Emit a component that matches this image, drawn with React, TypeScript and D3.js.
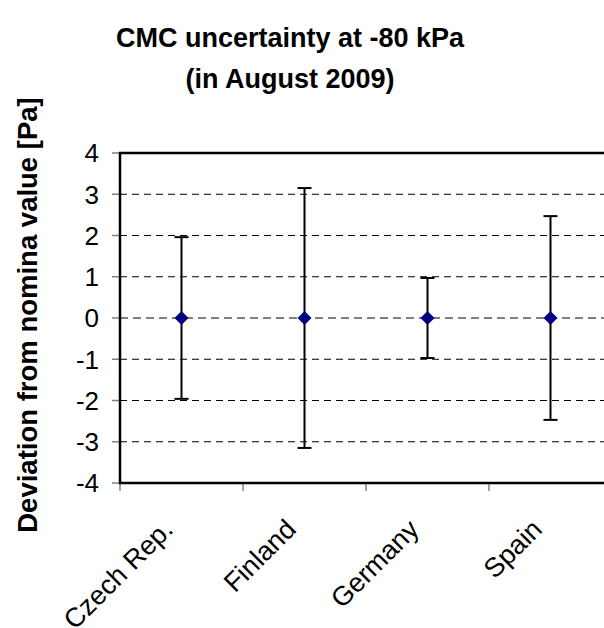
import React from "react";
import * as d3 from "d3";

const categories = ["Czech Rep.", "Finland", "Germany", "Spain"];
const values = [0, 0, 0, 0];
const uncertainty = [1.96, 3.15, 0.97, 2.47];
const yTicks = [-4, -3, -2, -1, 0, 1, 2, 3, 4];
const titleLines = ["CMC uncertainty at -80 kPa", "(in August 2009)"];
const yLabel = "Deviation from nomina value [Pa]";

const W = 604;
const H = 628;
const left = 120;
const right = 612;
const top = 153;
const bottom = 483;
const font = "Liberation Sans, Arial, sans-serif";

export default function App() {
  const x = d3.scaleBand<string>().domain(categories).range([left, right]);
  const y = d3.scaleLinear().domain([-4, 4]).range([bottom, top]);
  const diamond = d3.symbol().type(d3.symbolSquare).size(98)();
  const boundaries = categories.map((c) => x(c) as number);

  return (
    <svg
      width={W}
      height={H}
      style={{ position: "absolute", left: 0, top: 0, background: "#fff" }}
      fontFamily={font}
    >
      {/* title */}
      {titleLines.map((t, i) => (
        <text
          key={t}
          x={290}
          y={47 + i * 41}
          textAnchor="middle"
          fontSize={27}
          fontWeight="bold"
          fill="#000"
        >
          {t}
        </text>
      ))}
      {/* y label */}
      <text
        transform={`translate(37,${315}) rotate(-90)`}
        textAnchor="middle"
        fontSize={27.5}
        fontWeight="bold"
        fill="#000"
      >
        {yLabel}
      </text>

      {/* gridlines */}
      {yTicks
        .filter((t) => t !== 4 && t !== -4)
        .map((t) => (
          <line
            key={"g" + t}
            x1={left}
            x2={right}
            y1={y(t)}
            y2={y(t)}
            stroke={t === 0 ? "#808080" : "#000"}
            strokeWidth={t === 0 ? 2 : 1}
            strokeDasharray={t === 0 ? "8,5" : "7,5"}
          />
        ))}

      {/* y ticks */}
      {yTicks.map((t) => (
        <g key={"t" + t}>
          <line x1={112} x2={left} y1={y(t)} y2={y(t)} stroke="#808080" strokeWidth={1.5} />
          <text
            x={99}
            y={y(t)}
            dy="0.36em"
            textAnchor="end"
            fontSize={26}
            fill="#000"
          >
            {t}
          </text>
        </g>
      ))}

      {/* x ticks */}
      {boundaries.map((b, i) => (
        <line key={"xt" + i} x1={b} x2={b} y1={bottom} y2={bottom + 8} stroke="#808080" strokeWidth={1.5} />
      ))}

      {/* frame */}
      <rect
        x={left}
        y={top}
        width={right - left}
        height={bottom - top}
        fill="none"
        stroke="#000"
        strokeWidth={2.5}
      />

      {/* error bars and points */}
      {categories.map((c, i) => {
        const cx = (x(c) as number) + x.bandwidth() / 2;
        const v = values[i];
        const u = uncertainty[i];
        return (
          <g key={c}>
            <line x1={cx} x2={cx} y1={y(v + u)} y2={y(v - u)} stroke="#000" strokeWidth={2} />
            <line x1={cx - 7} x2={cx + 7} y1={y(v + u)} y2={y(v + u)} stroke="#000" strokeWidth={2} />
            <line x1={cx - 7} x2={cx + 7} y1={y(v - u)} y2={y(v - u)} stroke="#000" strokeWidth={2} />
            <path d={diamond as string} transform={`translate(${cx},${y(v)}) rotate(45)`} fill="#000080" />
          </g>
        );
      })}

      {/* x labels */}
      {categories.map((c) => {
        const cx = (x(c) as number) + x.bandwidth() / 2;
        return (
          <text
            key={"xl" + c}
            transform={`translate(${cx - 7},${531}) rotate(-45)`}
            textAnchor="end"
            fontSize={27}
            fill="#000"
          >
            {c}
          </text>
        );
      })}
    </svg>
  );
}
